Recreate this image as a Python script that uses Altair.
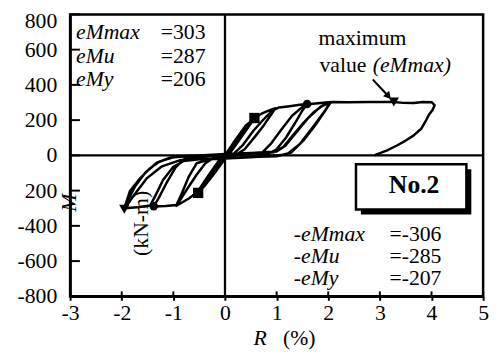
import altair as alt
import pandas as pd

# ---------------- data ----------------
R_path = [0, 0.2, 0.4, 0.57,
          0.5, 0.3, 0.1, -0.05, -0.25, -0.42, -0.52,
          -0.45, -0.28, -0.08, 0.07, 0.27, 0.45, 0.57,
          0.5, 0.32, 0.14, 0.0, -0.2, -0.4, -0.53,
          -0.46, -0.3, -0.12, 0.02, 0.22, 0.42, 0.58,
          0.7, 0.83, 0.98,
          0.9, 0.75, 0.55, 0.38, 0.2, 0.0, -0.15, -0.32, -0.5, -0.7, -0.94,
          -0.86, -0.72, -0.55, -0.38, -0.2, 0.0, 0.17, 0.35, 0.55, 0.75, 0.92, 1.05, 1.25, 1.45, 1.59,
          1.5, 1.36, 1.18, 1.0, 0.82, 0.5, 0.1, -0.3, -0.55, -0.7, -0.85, -0.94, -1.15, -1.38,
          -1.28, -1.12, -0.96, -0.8, -0.5, 0, 0.4, 0.72, 0.9, 1.1, 1.3, 1.5, 1.62, 1.8, 2.05,
          1.96, 1.77, 1.52, 1.28, 1.0, 0.5, 0, -0.5, -0.8, -1.0, -1.2, -1.35, -1.45, -1.7, -1.95,
          -1.84, -1.64, -1.45, -1.26, -0.94, -0.5, 0, 0.5, 0.95, 1.12, 1.32, 1.52, 1.72, 1.9, 2.05,
          1.94, 1.7, 1.45, 1.2, 0.6, 0, -0.61, -0.88, -1.22, -1.51, -1.8, -1.95,
          -1.88, -1.74, -1.55, -1.32, -1.05, -0.5, 0, 0.5, 1.0, 1.17, 1.38, 1.62, 1.86, 2.08,
          2.4, 2.8, 3.27, 3.45, 3.65, 3.84, 4.0, 4.06, 4.02, 3.95, 3.88, 3.8, 3.65, 3.5, 3.33, 3.14, 2.94, 2.89]
M_path = [0, 88, 168, 210,
          185, 110, 30, -25, -110, -180, -207,
          -180, -110, -30, 25, 105, 180, 212,
          180, 105, 30, -20, -100, -175, -212,
          -175, -105, -30, 10, 90, 170, 215,
          235, 252, 268,
          235, 170, 95, 35, 0, -15, -50, -120, -200, -245, -286,
          -250, -185, -110, -45, -10, 0, 10, 60, 140, 205, 255, 272, 279, 287, 292,
          255, 185, 100, 35, 5, -8, -15, -22, -45, -120, -225, -282, -287, -290,
          -240, -150, -70, -22, -5, 2, 8, 15, 70, 150, 225, 275, 290, 296, 303,
          262, 180, 85, 15, -5, -10, -15, -22, -32, -65, -140, -230, -285, -295, -300,
          -202, -129, -73, -34, -6, 0, 5, 10, 18, 45, 115, 185, 245, 285, 303,
          255, 160, 65, 5, -10, -18, -17, -28, -62, -129, -241, -306,
          -255, -175, -100, -42, -12, 0, 8, 14, 22, 55, 130, 215, 278, 303,
          302, 303, 303, 298, 297, 303, 302, 285, 258, 230, 191, 151, 112, 84, 56, 28, 6, 0]

mark_R = [0.57, -0.52, 1.59, -1.38, 3.27, -1.95]
mark_M = [212, -213, 292, -288, 303, -306]
mark_kind = ["My", "My", "Mu", "Mu", "Mmax", "Mmax"]

pos_names = ["eMmax", "eMu", "eMy"]
pos_vals = [303, 287, 206]
neg_names = ["-eMmax", "-eMu", "-eMy"]
neg_vals = [-306, -285, -207]

X_TICKS = [-3, -2, -1, 0, 1, 2, 3, 4, 5]
Y_TICKS = [-800, -600, -400, -200, 0, 200, 400, 600, 800]
Y_LABELS = ["-800", "-600", "-400", "200", "0", "200", "400", "600", "800"]

FONT = "Liberation Serif, Times New Roman, Times, serif"
W, H = 419, 286

# ---------------- frames ----------------
curve = pd.DataFrame({"R": R_path, "M": M_path, "i": list(range(len(R_path)))})
marks = pd.DataFrame({"R": mark_R, "M": mark_M, "kind": mark_kind})
ylab = pd.DataFrame({"v": Y_TICKS, "lab": Y_LABELS})
one = pd.DataFrame({"a": [0]})

xs = alt.Scale(domain=[-3, 5], nice=False, zero=False)
ys = alt.Scale(domain=[-800, 800], nice=False, zero=False)

xax = alt.Axis(values=X_TICKS, title=None, grid=False, labelFont=FONT, labelFontSize=22,
               labelColor="black", domainColor="black", domainWidth=2.5, tickColor="black",
               tickWidth=2, tickSize=4, labelPadding=3, labelFlush=False, labelOverlap=False,
               labelExpr="'' + datum.value")
yax = alt.Axis(values=Y_TICKS, title=None, grid=False, labels=False, ticks=False,
               domainColor="black", domainWidth=2.5)

X = lambda f: alt.X(f, scale=xs, axis=xax)
Y = lambda f: alt.Y(f, scale=ys, axis=yax)

base_line = alt.Chart(curve).mark_line(color="black", strokeWidth=2.5, strokeJoin="round").encode(
    x=X("R:Q"), y=Y("M:Q"), order="i:Q")

zero_h = alt.Chart(pd.DataFrame({"v": [0]})).mark_rule(color="black", strokeWidth=2.5).encode(
    y=Y("v:Q"))
zero_v = alt.Chart(pd.DataFrame({"v": [0]})).mark_rule(color="black", strokeWidth=2.3).encode(
    x=X("v:Q"))

# inward ticks
yt = pd.DataFrame({"v": Y_TICKS, "x0": [-3] * len(Y_TICKS), "x1": [-2.81] * len(Y_TICKS)})
ytick = alt.Chart(yt).mark_rule(color="black", strokeWidth=2).encode(
    x=X("x0:Q"), x2="x1:Q", y=Y("v:Q"))
xt = pd.DataFrame({"v": X_TICKS, "y0": [-800] * len(X_TICKS), "y1": [-772] * len(X_TICKS)})
xtick = alt.Chart(xt).mark_rule(color="black", strokeWidth=2).encode(
    x=X("v:Q"), y=Y("y0:Q"), y2="y1:Q")

# y tick labels drawn as text through the y scale
ylabels = alt.Chart(ylab).transform_filter(alt.datum.v < 800).mark_text(
    font=FONT, fontSize=22, align="right", baseline="middle", color="black").encode(
    x=alt.value(-13), y=Y("v:Q"), text="lab:N")
ylabel_top = alt.Chart(ylab).transform_filter(alt.datum.v == 800).mark_text(
    font=FONT, fontSize=22, align="right", baseline="middle", color="black", dy=7).encode(
    x=alt.value(-13), y=Y("v:Q"), text="lab:N")

def pts(kind, shape, size):
    return alt.Chart(marks).transform_filter(alt.datum.kind == kind).mark_point(
        shape=shape, size=size, filled=True, color="black", opacity=1).encode(
        x=X("R:Q"), y=Y("M:Q"))

squares = pts("My", "square", 110)
circles = pts("Mu", "circle", 75)
tris = pts("Mmax", "triangle-down", 110)

def txt(s, x, y, size=22, style="normal", weight="normal", align="left", baseline="alphabetic", angle=0):
    return alt.Chart(one).mark_text(text=s, font=FONT, fontSize=size, fontStyle=style,
                                    fontWeight=weight, align=align, baseline=baseline,
                                    angle=angle, color="black").encode(
        x=alt.value(x), y=alt.value(y))

texts = []
for k in range(3):
    texts.append(txt(pos_names[k], 6, 25 + 24 * k, style="italic"))
    texts.append(txt("=" + str(pos_vals[k]), 92, 25 + 24 * k))
    texts.append(txt(neg_names[k], 227, 230 + 22 * k, style="italic"))
    texts.append(txt("=" + str(neg_vals[k]), 324, 230 + 22 * k))

texts.append(txt("maximum", 252, 31))
texts.append(txt("value", 253, 58))
texts.append(txt("(eMmax)", 307, 58, style="italic"))
texts.append(txt("R", 186, 335, style="italic"))
texts.append(txt("(%)", 216, 335))
texts.append(txt("M", -1, 191, style="italic", align="center", baseline="middle", angle=270))
texts.append(txt("(kN-m)", 72, 212, align="center", baseline="middle", angle=270))

# arrow
arrow_line = alt.Chart(one).mark_rule(color="black", strokeWidth=2).encode(
    x=alt.value(307), y=alt.value(66), x2=alt.value(322), y2=alt.value(82))
arrow_head = alt.Chart(one).mark_point(shape="triangle-up", size=70, filled=True, color="black",
                                       opacity=1, angle=138).encode(
    x=alt.value(323), y=alt.value(83))

# No.2 box
shadow = alt.Chart(one).mark_rect(color="black").encode(
    x=alt.value(295), x2=alt.value(407), y=alt.value(157), y2=alt.value(203))
box = alt.Chart(one).mark_rect(fill="white", stroke="black", strokeWidth=2.5).encode(
    x=alt.value(290), x2=alt.value(402), y=alt.value(152), y2=alt.value(198))
label_no = txt("No.2", 349, 181, size=26, weight="bold", align="center")

chart = alt.layer(
    base_line, zero_h, zero_v, ytick, xtick, ylabels, ylabel_top, squares, circles, tris,
    shadow, box, label_no, arrow_line, arrow_head, *texts
).properties(
    width=W, height=H,
    autosize=alt.AutoSizeParams(type="none"),
    padding={"left": 63, "top": 4, "right": 10, "bottom": 56},
    background="white",
).configure_view(stroke="black", strokeWidth=2.5)

chart.save("out.html", embed_options={"renderer": "svg", "actions": False})
